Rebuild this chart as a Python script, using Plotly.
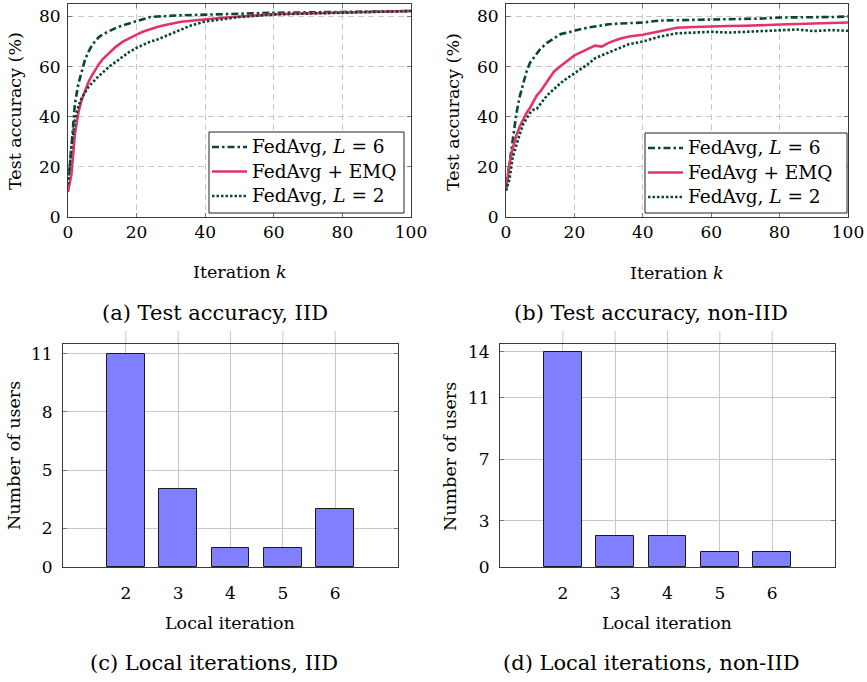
import plotly.graph_objects as go

# ---------------- data ----------------
k_vals = [0, 1, 2, 3, 4, 5, 6, 7, 8, 9, 10, 12, 14, 16, 18, 20, 22, 24, 26, 28, 30,
          33, 36, 40, 45, 50, 55, 60, 65, 70, 75, 80, 85, 90, 95, 100]

iid_L6 = [11, 27, 45, 53, 58.5, 63, 66, 68.5, 70.3, 71.8, 72.8, 74.3, 75.5, 76.5, 77.3,
          78.2, 79, 79.8, 80, 80.2, 80.3, 80.5, 80.6, 80.8, 81, 81.2, 81.3, 81.5, 81.6,
          81.8, 81.7, 81.8, 82, 82, 82.2, 82.2]
iid_EMQ = [10, 17, 33, 41.5, 46.8, 50.5, 54, 56.5, 59, 61, 62.8, 65.5, 68, 70, 71.5,
           72.8, 74, 75, 75.8, 76.5, 77, 77.9, 78.3, 78.9, 79.5, 80, 80.5, 80.9, 81.1,
           81.3, 81.4, 81.6, 81.8, 82, 82.1, 82.2]
iid_L2 = [13, 28, 38.5, 44, 47.5, 50, 52, 53.5, 55, 56.3, 57.5, 60, 62, 64, 66, 67.5,
          68.8, 70, 70.8, 72, 73, 75, 76.5, 78, 79, 79.8, 80.3, 80.8, 81, 81.2, 81.4,
          81.6, 81.7, 81.9, 82, 82.2]

non_L6 = [11, 21, 32, 41, 48, 53.5, 58, 61.5, 63.5, 65.5, 67, 69.5, 71.3, 73, 73.6,
          74.4, 75, 75.6, 76.1, 76.5, 76.9, 77.2, 77.3, 77.6, 78.4, 78.5, 78.7, 79, 79,
          79.1, 79.2, 79.6, 79.6, 79.7, 79.8, 80]
non_EMQ = [11, 21, 27.5, 32.5, 36, 39, 41.5, 43.5, 46, 48.5, 50, 54, 58, 60.3, 62.5,
           64.5, 65.8, 67, 68.4, 68, 69.5, 71, 72, 72.7, 74.2, 75.5, 75.8, 76.1, 76.2,
           76.3, 76.4, 76.8, 77, 77.3, 77.4, 77.6]
non_L2 = [10.5, 15, 24, 29, 33, 37, 39.5, 41.5, 42.8, 43.2, 45, 48.5, 51, 53.5, 55.5,
          57.5, 59.2, 61, 63.3, 64.5, 65.7, 67.3, 69, 70, 72, 73.3, 73.7, 73.9, 73.6,
          73.9, 74, 74.6, 74.8, 74.2, 74.6, 74.3]

local_iter = [2, 3, 4, 5, 6]
users_iid = [11, 4, 1, 1, 3]
users_non = [14, 2, 2, 1, 1]

acc_ticks = [0, 20, 40, 60, 80]
k_ticks = [0, 20, 40, 60, 80, 100]
iid_user_ticks = [0, 2, 5, 8, 11]
non_user_ticks = [0, 3, 7, 11, 14]

names = ["FedAvg, <i>L</i> = 6", "FedAvg + EMQ", "FedAvg, <i>L</i> = 2"]

# ---------------- style ----------------
W, H = 867, 682
FONT = "'DejaVu Serif', serif"
GREEN = "#064a2a"
PINK = "#e5336a"
BAR = "#8080ff"
FRAME = "#3a3a3a"
GRID = "#c8c8c8"
TICK_SZ = 17
LAB_SZ = 17.5
CAP_SZ = 21
LEG_SZ = 18.5

def px_x(p):
    return p / W

def px_y(p):
    return 1 - p / H

fig = go.Figure()

styles = [
    dict(color=GREEN, width=2.6, dash="7px,3px,2.5px,3px"),
    dict(color=PINK, width=2.6, dash="solid"),
    dict(color=GREEN, width=2.6, dash="2.5px,2px"),
]

for series, ax in [((iid_L6, iid_EMQ, iid_L2), ("x", "y")),
                   ((non_L6, non_EMQ, non_L2), ("x2", "y2"))]:
    for vals, nm, st in zip(series, names, styles):
        fig.add_trace(go.Scatter(x=k_vals, y=vals, mode="lines", name=nm,
                                 line=st, xaxis=ax[0], yaxis=ax[1], showlegend=False))

for vals, ax in [(users_iid, ("x3", "y3")), (users_non, ("x4", "y4"))]:
    fig.add_trace(go.Bar(x=local_iter, y=vals, width=0.72, xaxis=ax[0], yaxis=ax[1],
                         marker=dict(color=BAR, line=dict(color="#1a1a1a", width=1)),
                         showlegend=False))

common = dict(showline=True, linecolor=FRAME, linewidth=1, mirror="ticks",
              ticks="inside", ticklen=4, tickcolor="#777777", zeroline=False,
              tickfont=dict(family=FONT, size=TICK_SZ, color="black"), showgrid=True,
              gridcolor=GRID, gridwidth=1, automargin=False)

line_x = dict(common, range=[0, 100], tickvals=k_ticks, griddash="6px,4px")
line_y = dict(common, range=[0, 85], tickvals=acc_ticks, griddash="6px,4px",
              ticklabelstandoff=3)
bar_x = dict(common, range=[0.8, 7.2], tickvals=local_iter, ticks="",
             ticklabelstandoff=11)

# panel boxes in pixels (left, right, top, bottom)
PA = (68, 411, 4, 217)
PB = (506, 848, 4, 217)
PC = (63, 398, 344, 567)
PD = (500, 835, 344, 567)

fig.update_layout(
    width=W, height=H, autosize=False,
    margin=dict(l=0, r=0, t=0, b=0, pad=0, autoexpand=False),
    paper_bgcolor="white", plot_bgcolor="white",
    font=dict(family=FONT, size=LAB_SZ, color="black"),
    showlegend=False, bargap=0,
    xaxis=dict(line_x, domain=[px_x(PA[0]), px_x(PA[1])], anchor="y"),
    yaxis=dict(line_y, domain=[px_y(PA[3]), px_y(PA[2])], anchor="x"),
    xaxis2=dict(line_x, domain=[px_x(PB[0]), px_x(PB[1])], anchor="y2"),
    yaxis2=dict(line_y, domain=[px_y(PB[3]), px_y(PB[2])], anchor="x2"),
    xaxis3=dict(bar_x, domain=[px_x(PC[0]), px_x(PC[1])], anchor="y3"),
    yaxis3=dict(common, range=[0, 11.5], tickvals=iid_user_ticks,
                domain=[px_y(PC[3]), px_y(PC[2])], anchor="x3", ticklabelstandoff=6),
    xaxis4=dict(bar_x, domain=[px_x(PD[0]), px_x(PD[1])], anchor="y4"),
    yaxis4=dict(common, range=[0, 14.5], tickvals=non_user_ticks,
                domain=[px_y(PD[3]), px_y(PD[2])], anchor="x4", ticklabelstandoff=6),
)

# ---- hand-built legends (box, line samples, labels) in panel-domain coords ----
def legend_block(xa, ya, panel, box, rows):
    l, r, t, b = panel
    fx = lambda p: (p - l) / (r - l)
    fy = lambda p: (b - p) / (b - t)
    bx0, bx1, by0, by1 = box
    fig.add_shape(type="rect", xref=f"{xa} domain", yref=f"{ya} domain",
                  x0=fx(bx0), x1=fx(bx1), y0=fy(by1), y1=fy(by0),
                  fillcolor="white", line=dict(color="#222222", width=1), layer="above")
    for (yrow, nm, st) in zip(rows, names, styles):
        fig.add_shape(type="line", xref=f"{xa} domain", yref=f"{ya} domain",
                      x0=fx(bx0 + 3), x1=fx(bx0 + 38), y0=fy(yrow), y1=fy(yrow),
                      line=dict(color=st["color"], width=st["width"], dash=st["dash"]),
                      layer="above")
        fig.add_annotation(text=nm, xref=f"{xa} domain", yref=f"{ya} domain",
                           x=fx(bx0 + 41), y=fy(yrow), xanchor="left", yanchor="middle",
                           showarrow=False,
                           font=dict(family=FONT, size=LEG_SZ, color="black"))

legend_block("x", "y", PA, (209, 404, 132, 213), (147, 171.5, 196))
legend_block("x2", "y2", PB, (645, 847, 133, 213), (148, 172.5, 197))

# gridline stubs above the bar panels
for xa, ya in [("x3", "y3"), ("x4", "y4")]:
    for c in local_iter:
        fig.add_shape(type="line", xref=f"{xa} domain", yref=f"{ya} domain",
                      x0=(c - 0.8) / 6.4, x1=(c - 0.8) / 6.4, y0=1, y1=1 + 13 / 223,
                      line=dict(color=GRID, width=1), layer="below")

annots = [
    ("Test accuracy (%)", 15, 111, -90, LAB_SZ),
    ("Test accuracy (%)", 453, 112, -90, LAB_SZ),
    ("Iteration <i>k</i>", 240, 272, 0, LAB_SZ),
    ("Iteration <i>k</i>", 677, 273, 0, LAB_SZ),
    ("(a) Test accuracy, IID", 215, 313, 0, CAP_SZ),
    ("(b) Test accuracy, non-IID", 651, 313, 0, CAP_SZ),
    ("Number of users", 14, 456, -90, LAB_SZ),
    ("Number of users", 450, 456, -90, LAB_SZ),
    ("Local iteration", 230, 623, 0, LAB_SZ),
    ("Local iteration", 667, 623, 0, LAB_SZ),
    ("(c) Local iterations, IID", 214, 663, 0, CAP_SZ),
    ("(d) Local iterations, non-IID", 651, 663, 0, CAP_SZ),
]
for txt, x, y, ang, sz in annots:
    fig.add_annotation(text=txt, x=px_x(x), y=px_y(y), xref="paper", yref="paper",
                       showarrow=False, textangle=ang, xanchor="center", yanchor="middle",
                       font=dict(family=FONT, size=sz, color="black"))

fig.write_html("out.html")
